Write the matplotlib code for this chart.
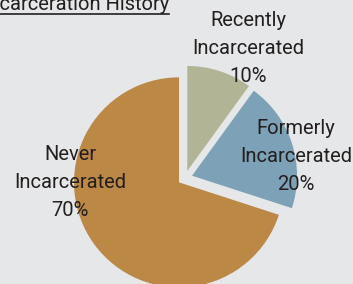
# ____________________________________________________________
# import modules

import matplotlib
matplotlib.use('Agg')
import matplotlib.pyplot as plt
from matplotlib.lines import Line2D


# ____________________________________________________________
# data

labels = ['Never\nIncarcerated', 'Formerly\nIncarcerated', 'Recently\nIncarcerated']
shares = [70, 20, 10]
colors = ['#BB8845', '#7DA1B6', '#B2B595']
title = 'Incarceration History'

bg = '#E6E7E8'
ink = '#231F20'
font = ['Roboto', 'DejaVu Sans']


# ____________________________________________________________
# plot

W, H = 353, 284
fig = plt.figure(figsize=(W / 100, H / 100), dpi=100, facecolor=bg)
ax = fig.add_axes([0, 0, 1, 1])
ax.set_facecolor(bg)

# explode is in data units here (pixels), not a fraction of radius
wedges, texts = ax.pie(shares, colors=colors, startangle=90, counterclock=True,
                       explode=[7.4] * 3, center=(185, H - 178), radius=105,
                       wedgeprops=dict(linewidth=0), frame=True)
ax.set_xlim(0, W)
ax.set_ylim(0, H)
ax.set_aspect('equal')
ax.axis('off')

# label positions in pixels (x, y from top)
label_pos = [(70, 182), (296, 157), (248, 49)]
for lab, s, (x, y) in zip(labels, shares, label_pos):
    ax.text(x, H - y, f'{lab}\n{s}%', ha='center', va='center',
            fontsize=14.5, family=font, color=ink, linespacing=1.6)

# title, underlined and running off the left edge
t = ax.text(169, H - 10, title, ha='right', va='baseline',
            fontsize=14.5, family=font, color=ink)
fig.canvas.draw()
bb = t.get_window_extent().transformed(ax.transData.inverted())
ax.add_line(Line2D([bb.x0, bb.x1], [H - 13.5, H - 13.5], color=ink, lw=1.2))

fig.savefig('out.png', dpi=100, facecolor=bg)
